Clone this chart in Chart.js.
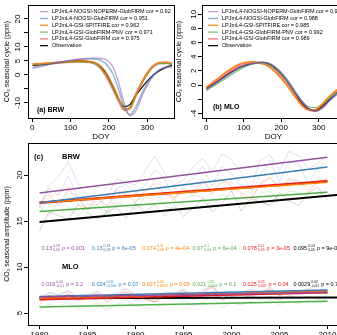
<!DOCTYPE html>
<html>
<head>
<meta charset="utf-8">
<script src="https://cdn.jsdelivr.net/npm/chart.js@4/dist/chart.umd.min.js"></script>
<style>
html, body { margin: 0; padding: 0; background: #fff; overflow: hidden; }
#wrap { position: relative; width: 337px; height: 335px; overflow: hidden; background: #fff; }
canvas { position: absolute; }
</style>
</head>
<body>
<div id="wrap">
  <canvas id="ca" width="185" height="145" style="left:0px;top:0px"></canvas>
  <canvas id="cb" width="190" height="145" style="left:172px;top:0px"></canvas>
  <canvas id="cc" width="350" height="200" style="left:0px;top:135px"></canvas>
</div>
<script>
const FONT = "'Liberation Sans', Arial, sans-serif";

// ---- data ----
const models = ['LPJmL4-NOGSI-NOPERM-GlobFIRM', 'LPJmL4-NOGSI-GlobFIRM', 'LPJmL4-GSI-SPITFIRE',
                'LPJmL4-GSI-GlobFIRM-PNV', 'LPJmL4-GSI-GlobFIRM', 'Observation'];
const corBRW = ['0.92', '0.951', '0.962', '0.971', '0.975'];
const corMLO = ['0.984', '0.988', '0.985', '0.992', '0.989'];

const doy = [1, 30, 60, 90, 120, 150, 170, 190, 210, 225, 240, 255, 270, 290, 310, 330, 350, 365];
// (a) BRW seasonal cycle
const brwCyclePurple = [2.4, 3.2, 4.2, 5.0, 5.6, 5.9, 6.0, 5.6, 3.0, -2.5, -10.0, -14.6, -13.0, -6.5, -1.5, 1.5, 2.6, 2.9];
const brwCycleBlue   = [2.7, 3.5, 4.3, 5.0, 5.6, 5.8, 5.6, 4.3, 0.5, -5.0, -11.5, -14.2, -11.5, -5.5, -1.0, 1.8, 2.9, 3.2];
const brwCycleOrange = [3.8, 4.1, 4.4, 4.7, 5.0, 4.8, 4.0, 1.5, -3.5, -8.0, -12.3, -12.2, -7.8, -1.5, 2.5, 4.4, 4.6, 4.1];
const brwCycleGreen  = [3.6, 3.9, 4.2, 4.5, 4.7, 4.5, 3.5, 0.5, -4.5, -8.8, -12.2, -11.6, -7.2, -2.0, 2.0, 4.0, 4.2, 3.8];
const brwCycleRed    = [3.8, 4.0, 4.3, 4.6, 4.8, 4.6, 3.5, 0.3, -4.8, -9.0, -12.5, -11.8, -7.2, -1.8, 2.3, 4.2, 4.3, 3.9];
const brwCycleObs    = [3.4, 3.8, 4.3, 4.7, 5.0, 4.8, 3.9, 1.2, -4.0, -8.5, -11.3, -10.6, -7.5, -3.8, -0.8, 1.3, 2.8, 3.5];
// (b) MLO seasonal cycle
const mloCyclePurple = [-0.6, 0.4, 1.5, 2.5, 3.0, 3.2, 3.0, 2.3, 1.2, 0.1, -1.1, -2.2, -3.1, -3.7, -3.3, -2.2, -1.3, -0.8];
const mloCycleBlue   = [-0.6, 0.4, 1.5, 2.5, 3.0, 3.2, 3.0, 2.3, 1.1, 0.0, -1.2, -2.3, -3.2, -3.7, -3.2, -2.1, -1.2, -0.7];
const mloCycleOrange = [-0.3, 0.9, 2.1, 3.0, 3.3, 3.0, 2.5, 1.5, 0.3, -0.8, -1.9, -2.9, -3.5, -3.5, -2.6, -1.5, -0.6, -0.2];
const mloCycleGreen  = [-0.8, 0.2, 1.2, 2.2, 2.9, 3.1, 2.8, 2.0, 0.9, -0.2, -1.3, -2.3, -3.0, -3.2, -2.7, -1.8, -1.0, -0.6];
const mloCycleRed    = [-0.4, 0.7, 1.9, 2.8, 3.2, 3.1, 2.6, 1.7, 0.5, -0.6, -1.7, -2.7, -3.4, -3.6, -2.8, -1.7, -0.8, -0.3];
const mloCycleObs    = [-0.5, 0.5, 1.6, 2.5, 3.0, 3.2, 2.9, 2.1, 0.9, -0.2, -1.4, -2.5, -3.3, -3.6, -3.0, -2.0, -1.0, -0.4];

// (c) yearly amplitude
const years = [1980, 1981, 1982, 1983, 1984, 1985, 1986, 1987, 1988, 1989, 1990, 1991, 1992, 1993, 1994, 1995,
               1996, 1997, 1998, 1999, 2000, 2001, 2002, 2003, 2004, 2005, 2006, 2007, 2008, 2009, 2010];
const brwAmpPurple = [16.6, 19.0, 19.8, 21.5, 19.1, 17.7, 16.8, 17.5, 19.6, 19.2, 18.9, 20.5, 22.1, 20.3, 18.9, 19.5,
                      20.9, 21.8, 20.4, 22.3, 21.7, 20.3, 18.4, 21.6, 22.2, 20.5, 22.6, 22.1, 20.7, 21.3, 22.3];
const brwAmpBlue   = [16.5, 18.6, 17.8, 19.9, 17.5, 16.2, 16.8, 15.9, 18.5, 19.0, 18.0, 18.9, 20.6, 19.7, 17.3, 19.0,
                      19.6, 21.0, 18.8, 21.0, 20.1, 18.7, 17.9, 20.0, 21.6, 19.3, 21.4, 21.3, 19.1, 20.8, 21.4];
const brwAmpOrange = [16.0, 17.6, 18.1, 18.7, 16.8, 16.4, 17.9, 16.0, 17.6, 18.5, 17.2, 17.8, 19.4, 18.5, 17.0, 18.6,
                      17.7, 19.3, 18.3, 19.6, 18.8, 17.8, 17.1, 19.2, 19.8, 18.4, 19.7, 19.0, 18.1, 19.4, 19.7];
const brwAmpGreen  = [16.6, 15.6, 17.2, 16.6, 15.5, 16.9, 16.7, 15.5, 17.1, 16.7, 16.3, 17.6, 17.4, 16.7, 16.2, 17.4,
                      17.8, 17.6, 16.7, 17.9, 17.7, 17.1, 16.6, 18.0, 18.3, 17.3, 18.3, 18.1, 17.4, 18.3, 18.2];
const brwAmpRed    = [17.0, 17.9, 16.7, 18.4, 17.6, 16.2, 17.5, 16.7, 18.4, 17.9, 17.0, 18.3, 19.1, 18.0, 17.5, 18.4,
                      18.2, 19.6, 17.9, 19.3, 19.2, 18.1, 17.5, 19.0, 19.7, 18.7, 19.5, 19.4, 18.4, 19.3, 19.5];
const brwAmpObs    = [13.9, 16.0, 15.6, 15.2, 16.8, 15.9, 15.2, 15.9, 16.5, 15.3, 16.9, 16.0, 16.8, 15.6, 16.7, 15.5,
                      16.4, 17.5, 16.0, 16.9, 18.3, 16.1, 17.5, 17.1, 16.7, 18.1, 17.2, 16.7, 18.1, 18.7, 17.3];
const mloAmpPurple = [6.3, 7.2, 6.9, 7.4, 6.6, 6.8, 7.3, 6.5, 7.0, 7.6, 6.9, 6.7, 6.4, 7.1, 7.0, 7.5,
                      6.8, 7.3, 7.9, 6.6, 7.2, 7.0, 7.4, 7.1, 7.6, 6.9, 7.3, 7.0, 7.4, 7.2, 7.3];
const mloAmpBlue   = [6.5, 7.3, 7.0, 7.5, 6.7, 7.0, 7.4, 6.6, 7.2, 7.7, 7.0, 6.9, 6.5, 7.3, 7.2, 7.6,
                      7.0, 7.5, 8.0, 6.9, 7.3, 7.2, 7.6, 7.3, 7.8, 7.1, 7.5, 7.3, 7.7, 7.4, 7.6];
const mloAmpOrange = [6.0, 7.0, 6.6, 7.3, 6.3, 6.7, 7.2, 6.2, 6.9, 7.4, 6.8, 6.5, 6.3, 7.0, 6.9, 7.5,
                      6.8, 7.3, 8.0, 6.6, 7.2, 7.0, 7.5, 7.2, 7.7, 6.9, 7.4, 7.2, 7.6, 7.3, 7.5];
const mloAmpGreen  = [5.2, 6.0, 5.7, 6.2, 5.4, 5.7, 6.1, 5.3, 5.9, 6.4, 5.8, 5.6, 5.4, 6.0, 5.9, 6.3,
                      5.8, 6.2, 6.7, 5.6, 6.1, 5.9, 6.3, 6.0, 6.5, 5.9, 6.3, 6.0, 6.4, 6.1, 6.3];
const mloAmpRed    = [5.9, 6.9, 6.5, 7.1, 6.3, 6.6, 7.1, 6.2, 6.8, 7.3, 6.7, 6.5, 6.2, 6.9, 6.8, 7.3,
                      6.7, 7.1, 7.8, 6.5, 7.1, 6.9, 7.3, 7.1, 7.5, 6.9, 7.3, 7.1, 7.4, 7.2, 7.3];
const mloAmpObs    = [6.3, 6.9, 6.6, 7.0, 6.5, 6.8, 6.4, 6.9, 6.7, 7.1, 6.4, 6.6, 6.2, 6.8, 6.6, 7.0,
                      6.5, 6.9, 7.3, 6.4, 6.8, 6.6, 6.9, 6.5, 6.8, 6.4, 6.9, 6.6, 6.8, 6.5, 6.7];

// linear trends, order: purple, blue, orange, green, red, observation
const trendYears = [1980, 2010];
const obsTrendYears = [1980, 2012];
const brwTrendStart = [18.06, 17.0, 17.0, 16.05, 17.0, 14.9];
const brwTrendEnd   = [21.96, 20.9, 19.22, 18.15, 19.34, 17.94];
const mloTrendStart = [6.75, 6.8, 6.6, 5.65, 6.5, 6.6];
const mloTrendEnd   = [7.23, 7.52, 7.41, 6.28, 7.25, 6.69];

// slope annotations
const slopeBRW = ['0.13', '0.13', '0.074', '0.07', '0.078', '0.095'];
const hiBRW    = ['0.19', '0.18', '0.11', '0.1', '0.11', '0.13'];
const loBRW    = ['0.06', '0.08', '0.04', '0.04', '0.05', '0.05'];
const pBRW     = ['0.001', '6e-05', '4e-04', '6e-04', '3e-05', '9e-04'];
const slopeMLO = ['0.016', '0.024', '0.027', '0.021', '0.025', '0.0029'];
const hiMLO    = ['0.04', '0.05', '0.05', '0.05', '0.05', '0.02'];
const loMLO    = ['-0.01', '-0.002', '0.0004', '-0.004', '0.001', '-0.01'];
const pMLO     = ['0.2', '0.07', '0.05', '0.1', '0.04', '0.7'];

// axis ticks
const ticksDoy = [0, 100, 200, 300];
const ticksA = [-10, -5, 0, 5, 10, 15, 20];
const labelsA = ['-10', '', '0', '5', '10', '', '20'];
const ticksB = [-4, -2, 0, 2, 4, 6, 8, 10];
const labelsB = ['-4', '', '0', '2', '4', '6', '8', '10'];
const ticksYear = [1980, 1985, 1990, 1995, 2000, 2005, 2010];
const ticksC = [5, 10, 15, 20];

// ---- styles ----
const set1 = ['#984EA3', '#377EB8', '#FF7F00', '#4DAF4A', '#E41A1C', '#000000'];
const cycleCols = ['rgba(152,78,163,0.6)', 'rgba(55,126,184,0.55)', 'rgba(255,127,0,0.8)',
                   'rgba(77,175,74,0.8)', 'rgba(228,26,28,0.5)', '#000000'];
const cycleWidths = [1.2, 1.5, 1.5, 1.2, 2.5, 1.2];
const faintCols = ['rgba(152,78,163,0.25)', 'rgba(55,126,184,0.25)', 'rgba(255,127,0,0.25)',
                   'rgba(77,175,74,0.25)', 'rgba(228,26,28,0.25)', 'rgba(0,0,0,0.22)'];
const trendWidths = [1.5, 1.5, 1.5, 1.5, 2.5, 2];

function pts(xs, ys) { return xs.map((x, i) => ({ x: x, y: ys[i] })); }

function xAxis(min, max, ticks, labels, title, h, titlePad) {
  return {
    type: 'linear', min: min, max: max,
    border: { display: false },
    grid: { drawOnChartArea: false, drawTicks: true, tickLength: 4, color: '#000', tickColor: '#000', tickWidth: 1 },
    afterBuildTicks: s => { s.ticks = ticks.map(v => ({ value: v })); },
    ticks: { autoSkip: false, maxRotation: 0, color: '#000', padding: 1,
             font: { family: FONT, size: 8 }, callback: (v, i) => labels[i] },
    title: { display: !!title, text: title, color: '#000', font: { family: FONT, size: 8 },
             padding: { top: 0, bottom: titlePad } },
    afterFit: s => { s.height = h; }
  };
}

function yAxis(min, max, ticks, labels, title, w) {
  return {
    type: 'linear', min: min, max: max,
    border: { display: false },
    grid: { drawOnChartArea: false, drawTicks: true, tickLength: 4, color: '#000', tickColor: '#000', tickWidth: 1 },
    afterBuildTicks: s => { s.ticks = ticks.map(v => ({ value: v })); },
    ticks: { autoSkip: false, minRotation: 90, maxRotation: 90, crossAlign: 'center', padding: 0,
             color: '#000', font: { family: FONT, size: 8 }, callback: (v, i) => labels[i] },
    title: { display: true, text: title, color: '#000', font: { family: FONT, size: 7 },
             padding: { top: 2.8, bottom: 0 } },
    afterFit: s => { s.width = w; }
  };
}

// box, legend, labels and slope text drawn R-style
const rStyle = {
  id: 'rStyle',
  afterDraw(chart, args, o) {
    const ctx = chart.ctx, a = chart.chartArea;
    ctx.save();
    ctx.strokeStyle = '#000';
    ctx.lineWidth = 1;
    ctx.strokeRect(Math.round(a.left) + 0.5, Math.round(a.top) + 0.5,
                   Math.round(a.right - a.left), Math.round(a.bottom - a.top));
    if (o.legend) {
      const lg = o.legend;
      ctx.font = '5.5px ' + FONT;
      ctx.textBaseline = 'middle';
      ctx.textAlign = 'left';
      models.forEach((m, i) => {
        const ds = chart.data.datasets[i];
        const y = lg.y + i * lg.dy;
        ctx.strokeStyle = ds.borderColor;
        ctx.lineWidth = Math.min(ds.borderWidth, 1.5);
        ctx.beginPath();
        ctx.moveTo(lg.x, y);
        ctx.lineTo(lg.x + lg.len, y);
        ctx.stroke();
        ctx.fillStyle = '#000';
        ctx.fillText(i < 5 ? m + ' cor = ' + lg.cor[i] : m, lg.x + lg.len + lg.gap, y);
      });
    }
    (o.tags || []).forEach(t => {
      ctx.font = 'bold ' + t.size + 'px ' + FONT;
      ctx.fillStyle = '#000';
      ctx.textBaseline = 'middle';
      ctx.textAlign = 'left';
      ctx.fillText(t.text, t.x, t.y);
    });
    if (o.slopes) {
      const xs = chart.scales.x, ys = chart.scales.y;
      o.slopes.forEach(row => {
        const y = ys.getPixelForValue(row.at);
        row.slope.forEach((s, k) => {
          let x = xs.getPixelForValue(o.slopeX[k]);
          ctx.fillStyle = set1[k];
          ctx.textBaseline = 'middle';
          ctx.textAlign = 'left';
          ctx.font = '5.5px ' + FONT;
          ctx.fillText(s, x, y);
          x += ctx.measureText(s).width + 1;
          ctx.font = '3.5px ' + FONT;
          ctx.fillText(row.hi[k], x, y - 2);
          ctx.fillText(row.lo[k], x, y + 2);
          x += Math.max(ctx.measureText(row.hi[k]).width, ctx.measureText(row.lo[k]).width) + 2;
          ctx.font = '5.5px ' + FONT;
          ctx.fillText('p = ' + row.p[k], x, y);
        });
      });
    }
    ctx.restore();
  }
};

function cycleSets(list) {
  return list.map((ys, i) => ({
    label: models[i], data: pts(doy, ys),
    borderColor: cycleCols[i], borderWidth: cycleWidths[i],
    pointRadius: 0, cubicInterpolationMode: 'monotone', fill: false
  }));
}

const baseOpts = {
  responsive: false, animation: false, events: [],
  plugins: { legend: { display: false }, tooltip: { enabled: false } }
};

// (a) BRW
new Chart(document.getElementById('ca'), {
  type: 'line',
  data: { datasets: cycleSets([brwCyclePurple, brwCycleBlue, brwCycleOrange, brwCycleGreen, brwCycleRed, brwCycleObs]) },
  options: Object.assign({}, baseOpts, {
    layout: { padding: { left: 0, top: 5, right: 11, bottom: 0 } },
    scales: {
      x: xAxis(-11, 370, ticksDoy, ticksDoy.map(String), 'DOY', 27, 3),
      y: yAxis(-15.4, 25, ticksA, labelsA, 'CO\u2082 seasonal cycle (ppm)', 28)
    },
    plugins: Object.assign({}, baseOpts.plugins, {
      rStyle: { legend: { x: 40, y: 11.7, dy: 6.8, len: 8, gap: 4, cor: corBRW },
                tags: [{ text: '(a) BRW', x: 37, y: 110, size: 7 }] }
    })
  }),
  plugins: [rStyle]
});

// (b) MLO
new Chart(document.getElementById('cb'), {
  type: 'line',
  data: { datasets: cycleSets([mloCyclePurple, mloCycleBlue, mloCycleOrange, mloCycleGreen, mloCycleRed, mloCycleObs]) },
  options: Object.assign({}, baseOpts, {
    layout: { padding: { left: 0, top: 5, right: 17, bottom: 0 } },
    scales: {
      x: xAxis(-11, 370, ticksDoy, ticksDoy.map(String), 'DOY', 27, 3),
      y: yAxis(-4.65, 11.3, ticksB, labelsB, 'CO\u2082 seasonal cycle (ppm)', 30)
    },
    plugins: Object.assign({}, baseOpts.plugins, {
      rStyle: { legend: { x: 36, y: 11.7, dy: 6.8, len: 10, gap: 4, cor: corMLO },
                tags: [{ text: '(b) MLO', x: 41, y: 106.7, size: 7 }] }
    })
  }),
  plugins: [rStyle]
});

// (c) amplitude trends
const ampBRW = [brwAmpPurple, brwAmpBlue, brwAmpOrange, brwAmpGreen, brwAmpRed, brwAmpObs];
const ampMLO = [mloAmpPurple, mloAmpBlue, mloAmpOrange, mloAmpGreen, mloAmpRed, mloAmpObs];
const setsC = [];
[ampBRW, ampMLO].forEach(group => group.forEach((ys, i) => setsC.push({
  data: pts(years, ys), borderColor: faintCols[i], borderWidth: 0.8, pointRadius: 0, tension: 0
})));
[[brwTrendStart, brwTrendEnd], [mloTrendStart, mloTrendEnd]].forEach(([st, en]) => {
  [0, 1, 3, 2, 4, 5].forEach(i => setsC.push({
    data: pts(i === 5 ? obsTrendYears : trendYears, [st[i], en[i]]),
    borderColor: set1[i], borderWidth: trendWidths[i], pointRadius: 0, tension: 0
  }));
});

new Chart(document.getElementById('cc'), {
  type: 'line',
  data: { datasets: setsC },
  options: Object.assign({}, baseOpts, {
    layout: { padding: { left: 0, top: 8, right: 11, bottom: 0 } },
    scales: {
      x: xAxis(1978.8, 2011.2, ticksYear, ticksYear.map(String), '', 10, 0),
      y: yAxis(3.7, 23.5, ticksC, ticksC.map(String), 'CO\u2082 seasonal amplitude (ppm)', 28)
    },
    plugins: Object.assign({}, baseOpts.plugins, {
      rStyle: {
        tags: [{ text: '(c)', x: 34, y: 22, size: 7.5 }, { text: 'BRW', x: 62, y: 22, size: 7.5 },
               { text: 'MLO', x: 62, y: 132, size: 7.5 }],
        slopeX: [1980.2, 1985.45, 1990.7, 1995.95, 2001.2, 2006.45],
        slopes: [
          { at: 12.07, slope: slopeBRW, hi: hiBRW, lo: loBRW, p: pBRW },
          { at: 8.15, slope: slopeMLO, hi: hiMLO, lo: loMLO, p: pMLO }
        ]
      }
    })
  }),
  plugins: [rStyle]
});
</script>
</body>
</html>
